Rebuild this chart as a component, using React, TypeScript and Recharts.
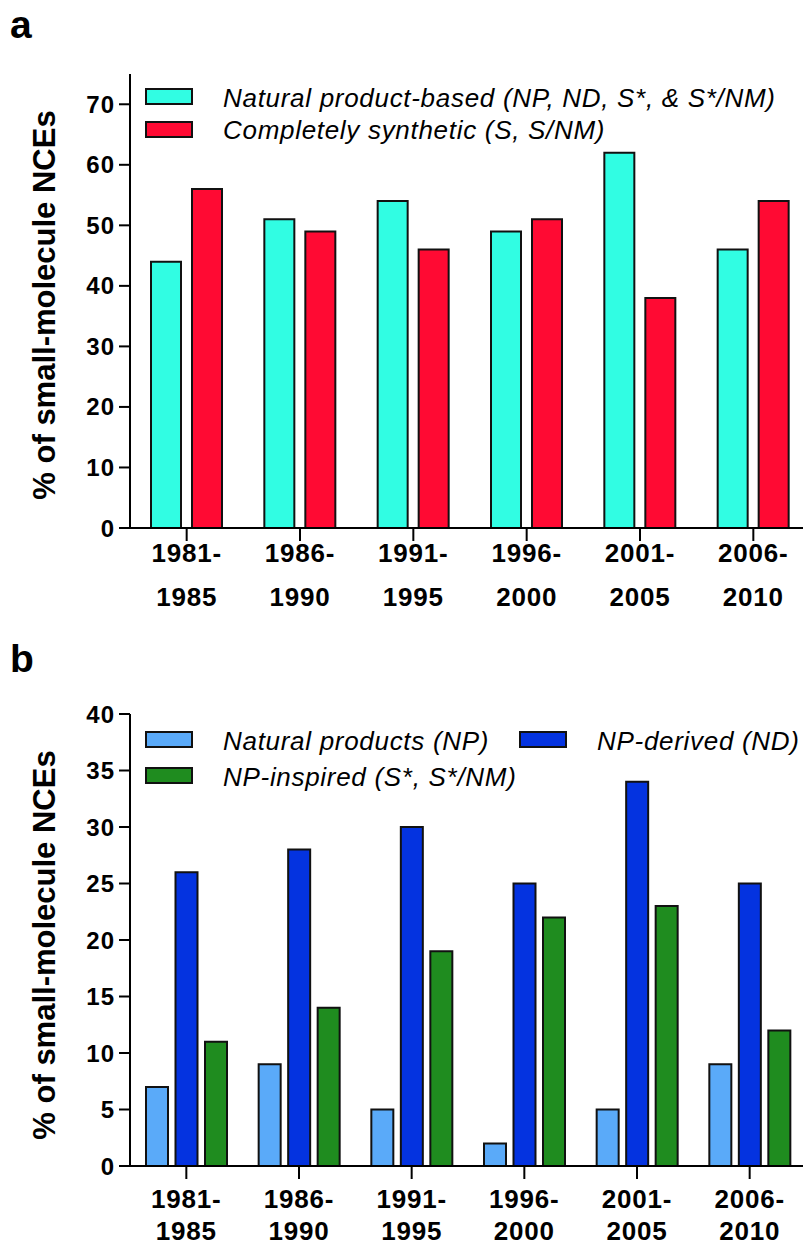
import React from 'react';
import { BarChart, Bar, XAxis, YAxis, Legend } from 'recharts';

const FONT = '"Liberation Sans", Arial, Helvetica, sans-serif';

// data (percent of small-molecule NCEs)
const periods = ['1981-1985', '1986-1990', '1991-1995', '1996-2000', '2001-2005', '2006-2010'];
const naturalBased = [44, 51, 54, 49, 62, 46];
const completelySynthetic = [56, 49, 46, 51, 38, 54];
const naturalProducts = [7, 9, 5, 2, 5, 9];
const npDerived = [26, 28, 30, 25, 34, 25];
const npInspired = [11, 14, 19, 22, 23, 12];
const ticksA = [0, 10, 20, 30, 40, 50, 60, 70];
const ticksB = [0, 5, 10, 15, 20, 25, 30, 35, 40];

const seriesA = [
  { key: 'nat', name: 'Natural product-based (NP, ND, S*, & S*/NM)', color: '#31fde3' },
  { key: 'syn', name: 'Completely synthetic (S, S/NM)', color: '#ff0a33' },
];
const seriesB = [
  { key: 'np', name: 'Natural products (NP)', color: '#5aaaf9' },
  { key: 'nd', name: 'NP-derived (ND)', color: '#0433e0' },
  { key: 'ins', name: 'NP-inspired (S*, S*/NM)', color: '#1f8c1f' },
];

const dataA = periods.map((period, i) => ({ period, nat: naturalBased[i], syn: completelySynthetic[i] }));
const dataB = periods.map((period, i) => ({
  period,
  np: naturalProducts[i],
  nd: npDerived[i],
  ins: npInspired[i],
}));

const axisStyle = { stroke: '#000', strokeWidth: 2 };
const yTickStyle = { fontSize: 24, fontWeight: 'bold', fill: '#000', fontFamily: FONT, letterSpacing: 1 };

// two-line period label, e.g. "1981-" over "1985"
const PeriodTick = ({ x, y, payload, first = 19, gap = 44 }: any) => {
  const [from, to] = String(payload.value).split('-');
  return (
    <text x={x} y={y} textAnchor="middle" fontFamily={FONT} fontWeight="bold" fontSize={26} letterSpacing={0.8} fill="#000">
      <tspan x={x} dy={first}>{from}-</tspan>
      <tspan x={x} dy={gap}>{to}</tspan>
    </text>
  );
};

const YTitle = () => (
  <text x={55} y={305} transform="rotate(-90 55 305)" textAnchor="middle" fontFamily={FONT} fontWeight="bold" fontSize={31} fill="#000">
    % of small-molecule NCEs
  </text>
);

// legend entries: [series, swatch left, swatch top, text left, text baseline]
type Entry = [{ name: string; color: string }, number, number, number, number];

const LegendBox = ({ entries }: { entries: Entry[] }) => (
  <svg width={820} height={200} style={{ display: 'block' }}>
    {entries.map(([s, sx, sy, tx, ty]) => (
      <g key={s.name}>
        <rect x={sx + 1} y={sy + 1} width={46} height={15} fill={s.color} stroke="#111" strokeWidth={2} />
        <text x={tx} y={ty} fontFamily={FONT} fontStyle="italic" fontSize={26} letterSpacing={0.7} fill="#000">
          {s.name}
        </text>
      </g>
    ))}
  </svg>
);

const legendWrap = { top: 0, left: 0, width: 820, height: 200, margin: 0, pointerEvents: 'none' as const };

const PanelLetter = ({ text, top }: { text: string; top: number }) => (
  <div style={{ position: 'absolute', left: 10, top, fontSize: 39, lineHeight: 1, fontWeight: 'bold', fontFamily: FONT }}>{text}</div>
);

export default function App() {
  return (
    <div style={{ position: 'absolute', left: 0, top: 0, width: 803, height: 1247, overflow: 'hidden', background: '#fff', fontFamily: FONT }}>
      <PanelLetter text="a" top={5} />
      <PanelLetter text="b" top={639} />

      <div style={{ position: 'absolute', left: 0, top: 0 }}>
        <BarChart width={820} height={628} data={dataA} margin={{ top: 74, right: 10, bottom: 0, left: 50 }} barSize={30} barGap={11}>
          <XAxis dataKey="period" height={100} tick={<PeriodTick first={19} gap={44} />} tickSize={13} tickLine={axisStyle} axisLine={axisStyle} interval={0} />
          <XAxis xAxisId="top" dataKey="period" orientation="top" height={0} tick={false} tickLine={false} axisLine={axisStyle} />
          <YAxis width={80} domain={[0, 75]} ticks={ticksA} tick={yTickStyle} tickSize={11} tickMargin={4} tickLine={axisStyle} axisLine={axisStyle} label={<YTitle />} />
          <YAxis yAxisId="right" orientation="right" width={0} tick={false} tickLine={false} axisLine={axisStyle} />
          <Legend
            layout="vertical"
            align="center"
            verticalAlign="middle"
            wrapperStyle={legendWrap}
            content={() => (
              <LegendBox
                entries={[
                  [seriesA[0], 145, 88, 223, 107],
                  [seriesA[1], 145, 121, 223, 139],
                ]}
              />
            )}
          />
          {seriesA.map((s) => (
            <Bar key={s.key} dataKey={s.key} name={s.name} fill={s.color} stroke="#111" strokeWidth={2} isAnimationActive={false} />
          ))}
        </BarChart>
      </div>

      <div style={{ position: 'absolute', left: 0, top: 640 }}>
        <BarChart width={820} height={626} data={dataB} margin={{ top: 74, right: 14, bottom: 0, left: 50 }} barSize={22} barGap={7.5}>
          <XAxis dataKey="period" height={100} tick={<PeriodTick first={27} gap={32} />} tickSize={13} tickLine={axisStyle} axisLine={axisStyle} interval={0} />
          <XAxis xAxisId="top" dataKey="period" orientation="top" height={0} tick={false} tickLine={false} axisLine={axisStyle} />
          <YAxis width={80} domain={[0, 40]} ticks={ticksB} tick={yTickStyle} tickSize={11} tickMargin={4} tickLine={axisStyle} axisLine={axisStyle} label={<YTitle />} />
          <YAxis yAxisId="right" orientation="right" width={0} tick={false} tickLine={false} axisLine={axisStyle} />
          <Legend
            layout="vertical"
            align="center"
            verticalAlign="middle"
            wrapperStyle={legendWrap}
            content={() => (
              <LegendBox
                entries={[
                  [seriesB[0], 145, 91, 223, 110],
                  [seriesB[1], 519, 91, 597, 110],
                  [seriesB[2], 145, 127, 223, 146],
                ]}
              />
            )}
          />
          {seriesB.map((s) => (
            <Bar key={s.key} dataKey={s.key} name={s.name} fill={s.color} stroke="#111" strokeWidth={2} isAnimationActive={false} />
          ))}
        </BarChart>
      </div>
    </div>
  );
}
